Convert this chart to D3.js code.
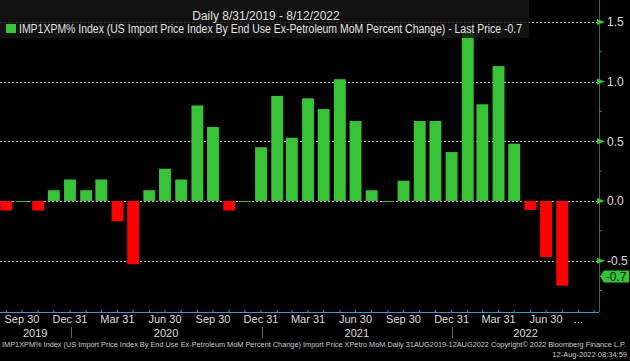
<!DOCTYPE html>
<html>
<head>
<meta charset="utf-8">
<script src="https://cdnjs.cloudflare.com/ajax/libs/d3/7.8.5/d3.min.js"></script>
<style>
  html, body { margin: 0; padding: 0; background: #000; }
  svg { display: block; }
</style>
</head>
<body>
<div id="chart"></div>
<script>
let width = 630
let height = 361
let fontFamily = "Liberation Sans, Arial, sans-serif"

// month-end dates of each print
let months = ['2019-08-31', '2019-09-30', '2019-10-31', '2019-11-30', '2019-12-31',
    '2020-01-31', '2020-02-29', '2020-03-31', '2020-04-30', '2020-05-31', '2020-06-30',
    '2020-07-31', '2020-08-31', '2020-09-30', '2020-10-31', '2020-11-30', '2020-12-31',
    '2021-01-31', '2021-02-28', '2021-03-31', '2021-04-30', '2021-05-31', '2021-06-30',
    '2021-07-31', '2021-08-31', '2021-09-30', '2021-10-31', '2021-11-30', '2021-12-31',
    '2022-01-31', '2022-02-28', '2022-03-31', '2022-04-30', '2022-05-31', '2022-06-30',
    '2022-07-31']
// MoM percent change
let values = [-0.08, 0.0, -0.08, 0.09, 0.18,
    0.09, 0.18, -0.17, -0.53, 0.09, 0.27,
    0.18, 0.80, 0.62, -0.08, 0.0, 0.45,
    0.88, 0.53, 0.86, 0.77, 1.02, 0.67,
    0.09, 0.0, 0.17, 0.67, 0.67, 0.41,
    1.43, 0.81, 1.13, 0.48, -0.075, -0.47,
    -0.71]
let yTicks = [-0.5, 0.0, 0.5, 1.0, 1.5]
let quarterTicks = ['2019-09-30', '2019-12-31', '2020-03-31', '2020-06-30', '2020-09-30',
    '2020-12-31', '2021-03-31', '2021-06-30', '2021-09-30', '2021-12-31', '2022-03-31',
    '2022-06-30']
let quarterLabels = ['Sep 30', 'Dec 31', 'Mar 31', 'Jun 30', 'Sep 30', 'Dec 31', 'Mar 31',
    'Jun 30', 'Sep 30', 'Dec 31', 'Mar 31', 'Jun 30']
let years = ['2019', '2020', '2021', '2022']
let rangeStart = '2019-08-31'
let rangeEnd = '2022-08-12'
let lastPrice = -0.7

let title = 'Daily 8/31/2019 - 8/12/2022'
let legendText = 'IMP1XPM% Index (US Import Price Index By End Use Ex-Petroleum MoM Percent Change) - Last Price -0.7'
let footer = 'IMP1XPM% Index (US Import Price Index By End Use Ex-Petroleum MoM Percent Change) Import Price XPetro MoM  Daily 31AUG2019-12AUG2022  Copyright\u00a9 2022 Bloomberg Finance L.P.'
let stamp = '12-Aug-2022 08:34:59'

let green = '#37c237'
let red = '#ff0000'
let parse = d3.utcParse('%Y-%m-%d')

let plot = { left: 0, right: 599, top: 0, bottom: 312 }

let x = d3.scaleUtc()
    .domain([parse(rangeStart), parse(rangeEnd)])
    .range([6.3, 568.5])
let y = d3.scaleLinear()
    .domain([-0.93, 1.65])
    .range([plot.bottom, 4])

let svg = d3.select('#chart').append('svg')
    .attr('width', width)
    .attr('height', height)
    .style('font-family', fontFamily)

svg.append('rect').attr('width', width).attr('height', height).attr('fill', '#000')

// grid lines
svg.append('g')
    .selectAll('line')
    .data(yTicks)
    .join('line')
    .attr('x1', plot.left)
    .attr('x2', plot.right)
    .attr('y1', d => Math.round(y(d)) + 0.5)
    .attr('y2', d => Math.round(y(d)) + 0.5)
    .attr('stroke', '#bbbbbb')
    .attr('stroke-width', 1)
    .attr('stroke-dasharray', '2,2')

// bars
let data = months.map((m, i) => ({ date: parse(m), value: values[i] }))
let barW = (x(parse('2019-09-30')) - x(parse('2019-08-31'))) * 0.76
svg.append('g')
    .selectAll('rect')
    .data(data)
    .join('rect')
    .attr('x', d => x(d.date) - barW / 2)
    .attr('width', barW)
    .attr('y', d => d.value >= 0 ? y(d.value) : y(0))
    .attr('height', d => Math.max(1, Math.abs(y(d.value) - y(0))))
    .attr('fill', d => d.value >= 0 ? green : red)

// header + legend (semi transparent panel over the bars)
svg.append('rect')
    .attr('x', 0).attr('y', 0)
    .attr('width', 529).attr('height', 38)
    .attr('fill', '#161616')
    .attr('opacity', 0.82)
svg.append('text')
    .attr('x', 266).attr('y', 20)
    .attr('text-anchor', 'middle')
    .attr('font-size', 12)
    .attr('fill', '#e0e0e0')
    .text(title)
svg.append('rect')
    .attr('x', 6).attr('y', 24)
    .attr('width', 10).attr('height', 9)
    .attr('fill', green)
svg.append('text')
    .attr('x', 19).attr('y', 33)
    .attr('font-size', 12)
    .attr('fill', '#e0e0e0')
    .attr('textLength', 503)
    .attr('lengthAdjust', 'spacingAndGlyphs')
    .text(legendText)

// right axis
let rightAxis = svg.append('g')
rightAxis.append('line')
    .attr('x1', plot.right + 0.5).attr('x2', plot.right + 0.5)
    .attr('y1', 0).attr('y2', plot.bottom)
    .attr('stroke', '#3d6b3d')
rightAxis.selectAll('line.minor')
    .data(d3.range(-0.75, 1.76, 0.25).filter(v => Math.abs(v * 2 - Math.round(v * 2)) > 0.01))
    .join('line')
    .attr('class', 'minor')
    .attr('x1', plot.right).attr('x2', plot.right + 3)
    .attr('y1', d => y(d)).attr('y2', d => y(d))
    .attr('stroke', '#2f8f2f')
rightAxis.selectAll('path')
    .data(yTicks)
    .join('path')
    .attr('d', d => {
        let yy = y(d)
        return 'M' + (plot.right - 2) + ',' + (yy - 3) + 'L' + (plot.right + 6) + ',' + yy + 'L' + (plot.right - 2) + ',' + (yy + 3) + 'Z'
    })
    .attr('fill', green)
rightAxis.selectAll('text')
    .data(yTicks)
    .join('text')
    .attr('x', plot.right + 8)
    .attr('y', d => y(d) + 4.5)
    .attr('font-size', 12)
    .attr('fill', '#dddddd')
    .text(d => d3.format('.1f')(d).replace('\u2212', '-'))

// last price tag
let tagY = y(lastPrice) - 8
svg.append('path')
    .attr('d', 'M' + (plot.right + 1) + ',' + tagY + 'L' + (plot.right + 5) + ',' + (tagY - 6) + 'L629,' + (tagY - 6) +
        'L629,' + (tagY + 6) + 'L' + (plot.right + 5) + ',' + (tagY + 6) + 'Z')
    .attr('fill', green)
svg.append('text')
    .attr('x', 616).attr('y', tagY + 4.5)
    .attr('text-anchor', 'middle')
    .attr('font-size', 12)
    .attr('fill', '#0a2a0a')
    .text(d3.format('.1f')(lastPrice).replace('\u2212', '-'))

// bottom axis
let bottom = svg.append('g')
bottom.append('line')
    .attr('x1', 0).attr('x2', plot.right)
    .attr('y1', plot.bottom + 0.5).attr('y2', plot.bottom + 0.5)
    .attr('stroke', '#4a8fd6')
bottom.selectAll('line.tick')
    .data(d3.utcMonth.range(parse('2019-08-01'), parse('2022-10-01')).map(d => d3.utcDay.offset(d3.utcMonth.offset(d, 1), -1)))
    .join('line')
    .attr('class', 'tick')
    .attr('x1', d => x(d)).attr('x2', d => x(d))
    .attr('y1', plot.bottom - 2).attr('y2', plot.bottom)
    .attr('stroke', '#4a8fd6')
    .filter(d => x(d) > plot.right).remove()
bottom.selectAll('text.q')
    .data(quarterTicks)
    .join('text')
    .attr('class', 'q')
    .attr('x', d => x(parse(d)))
    .attr('y', 323)
    .attr('text-anchor', 'middle')
    .attr('font-size', 11)
    .attr('fill', '#dddddd')
    .text((d, i) => quarterLabels[i])
bottom.append('text')
    .attr('x', x(parse('2022-08-31')))
    .attr('y', 323)
    .attr('text-anchor', 'middle')
    .attr('font-size', 11)
    .attr('fill', '#dddddd')
    .text('...')

// year separators and labels
let bounds = years.map(yr => [
    Math.max(plot.left, x(parse(yr + '-01-01'))),
    Math.min(plot.right, x(parse((+yr + 1) + '-01-01')))
])
bottom.selectAll('line.sep')
    .data(bounds.slice(1))
    .join('line')
    .attr('class', 'sep')
    .attr('x1', d => Math.round(d[0]) + 0.5).attr('x2', d => Math.round(d[0]) + 0.5)
    .attr('y1', 327).attr('y2', 338)
    .attr('stroke', '#666666')
bottom.selectAll('text.yr')
    .data(years)
    .join('text')
    .attr('class', 'yr')
    .attr('x', (d, i) => (bounds[i][0] + bounds[i][1]) / 2)
    .attr('y', 337)
    .attr('text-anchor', 'middle')
    .attr('font-size', 11)
    .attr('fill', '#dddddd')
    .text(d => d)

// footer
svg.append('text')
    .attr('x', 2).attr('y', 347)
    .attr('font-size', 7)
    .attr('fill', '#cccccc')
    .attr('textLength', 624)
    .attr('lengthAdjust', 'spacingAndGlyphs')
    .text(footer)
svg.append('text')
    .attr('x', 627).attr('y', 357)
    .attr('text-anchor', 'end')
    .attr('font-size', 7.5)
    .attr('fill', '#cccccc')
    .text(stamp)
</script>
</body>
</html>
